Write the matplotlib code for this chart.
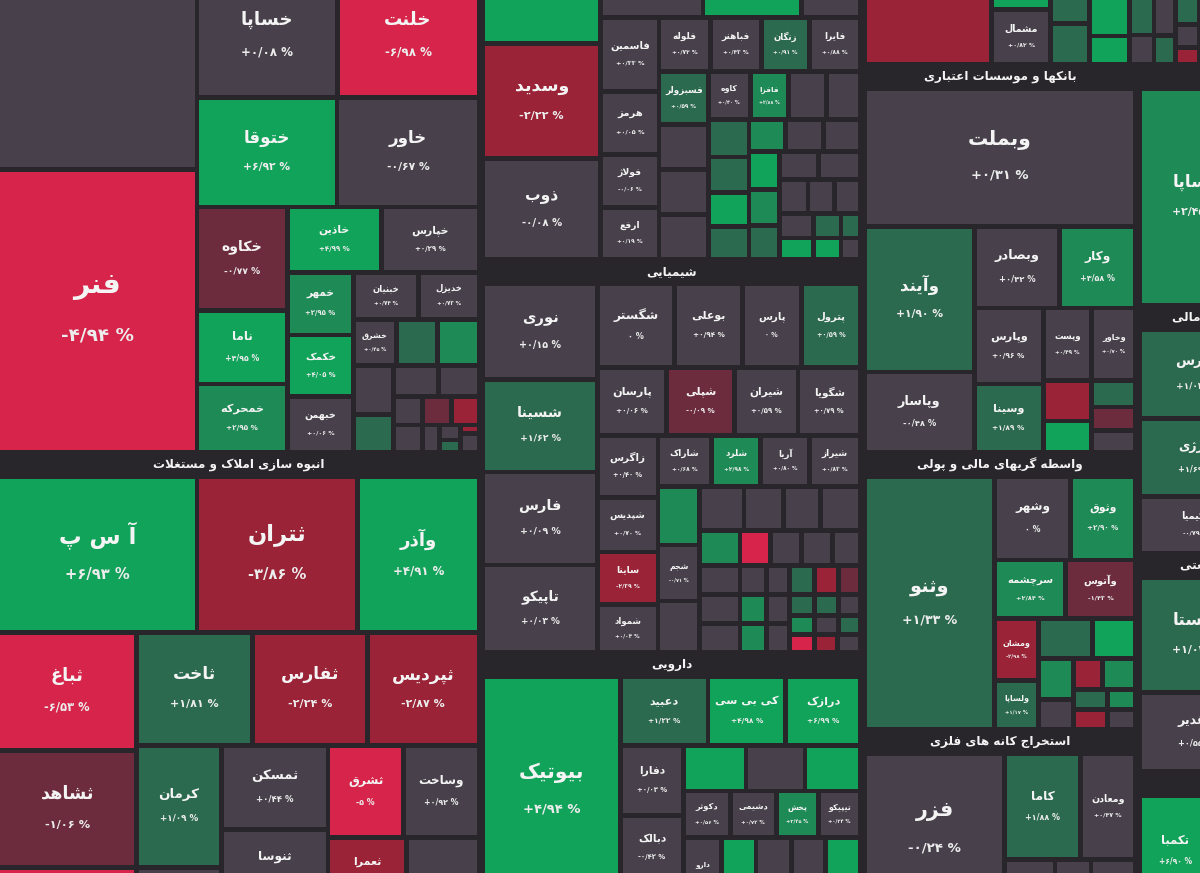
import matplotlib
matplotlib.use('Agg')
import matplotlib.pyplot as plt
from matplotlib.patches import Rectangle
from matplotlib import font_manager as fm
from matplotlib.ft2font import FT2Font

# ---------------- data: (name, size, change[, closing change for colour]) ----------------
AUTO = ['S', None, ['H',
    ['V', ('', 391, 0.11), ('فنر', 566.5, -4.94)],
    ['V',
        ['H', ('خساپا', 173, 0.08), ('خلنت', 175, -6.98)],
        ['H', ('ختوقا', 155, 6.92), ('خاور', 157, -0.67)],
        ['H',
            ['V', ('خکاوه', 94, -0.77), ('ناما', 67, 4.95), ('خمحرکه', 62, 2.95)],
            ['V',
                ['H', ('خاذین', 62, 4.99), ('خپارس', 64, 0.29)],
                ['H',
                    ['V', ('خمهر', 42, 2.95), ('خکمک', 41.5, 4.05), ('خبهمن', 37, 0.06)],
                    ['V',
                        ['H', ('خبنیان', 31, 0.74), ('خدیزل', 29, 0.73)],
                        ['H', ('خشرق', 19.6, 0.45), ('', 18.7, 1.5), ('', 19.1, 3.0)],
                        ['H',
                            ['V', ('', 19.8, 0.1), ('', 15, 1.5)],
                            ['V',
                                ['H', ('', 14.1, 0.1), ('', 12.6, 0.2)],
                                ['H',
                                    ['V', ('', 8.6, 0.1), ('', 8.0, 0.0)],
                                    ['V',
                                        ['H', ('', 8.3, -1.2), ('', 8.1, -2.5)],
                                        ['H', ('', 4.5, 0.1),
                                         ['V', ('', 3.2, 0.1), ('', 2.6, 1.5)],
                                         ['V', ('', 1.5, -3.0), ('', 3.5, 0.1)]],
                                    ],
                                ],
                            ],
                        ],
                    ],
                ],
            ],
        ],
    ],
]]

REALESTATE = ['S', 'انبوه سازی املاک و مستغلات', ['V',
    ['H', ('آ س پ', 313.8, 6.93), ('ثتران', 253.5, -3.86), ('وآذر', 191, 4.91)],
    ['H',
        ['V', ('ثباغ', 164.7, -6.53), ('ثشاهد', 163.2, -1.06), ('', 52.3, -4.5)],
        ['V',
            ['H', ('ثاخت', 132, 1.81), ('ثفارس', 131, -2.24), ('ثپردیس', 126.6, -2.87)],
            ['H',
                ['V', ('کرمان', 104.3, 1.09), ('', 32, 0.1)],
                ['V', ('ثمسکن', 89.8, 0.44), ('ثنوسا', 81.7, 0.3)],
                ['V',
                    ['H', ('ثشرق', 69.9, -5), ('وساخت', 69.9, 0.92)],
                    ['H', ('ثعمرا', 53.3, -3.1), ('', 49.3, 0.1)],
                ],
            ],
        ],
    ],
]]

METALS = ['S', None, ['H',
    ['V', ('', 81.5, 4.1), ('وسدید', 136.9, -2.22), ('ذوب', 120.2, -0.08)],
    ['V',
        ['H', ('', 44, 0.1), ('', 42.3, 5.0), ('', 25.3, 0.1)],
        ['H',
            ['V', ('فاسمین', 43.7, 0.33), ('هرمز', 37.2, 0.05), ('فولاژ', 31.3, -0.06), ('ارفع', 30.7, 0.19)],
            ['V',
                ['H', ('فلوله', 28.1, 0.72), ('فباهنر', 27.8, 0.43), ('زنگان', 26.2, 0.91, 1.5), ('فایرا', 27.8, 0.88)],
                ['H',
                    ['V', ('فسبزولر', 26.5, 0.59, 1.5), ('', 22.5, 0.1), ('', 22.5, 0.1), ('', 22.5, 0.1)],
                    ['V',
                        ['H', ('کاوه', 20.2, 0.40), ('فافزا', 18.7, 2.88), ('', 18.2, 0.1), ('', 16.6, 0.1)],
                        ['H',
                            ['V', ('', 15.4, 1.5), ('', 14.6, 1.5), ('', 13.9, 5.0), ('', 13.5, 1.5)],
                            ['V',
                                ['H', ('', 11.8, 2.5), ('', 12.2, 0.1), ('', 12.0, 0.1)],
                                ['H',
                                    ['V', ('', 11.8, 5.0), ('', 11.2, 2.5), ('', 10.5, 1.5)],
                                    ['V',
                                        ['H', ('', 10.9, 0.1), ('', 11.9, 0.1)],
                                        ['H', ('', 9.7, 0.1), ('', 9.0, 0.1), ('', 9.0, 0.1)],
                                        ['H', ['V', ('', 8.3, 0.1), ('', 7.3, 5.0)],
                                              ['V', ('', 6.9, 1.5), ('', 6.0, 5.0)],
                                              ['V', ('', 4.8, 1.5), ('', 4.2, 0.1)]],
                                    ],
                                ],
                            ],
                        ],
                    ],
                ],
            ],
        ],
    ],
]]

CHEM = ['S', 'شیمیایی', ['H',
    ['V', ('نوری', 110.3, 0.15), ('شسینا', 106.8, 1.62), ('فارس', 107.4, 0.09), ('تاپیکو', 101.1, 0.03)],
    ['V',
        ['H', ('شگستر', 65.5, 0.0), ('بوعلی', 56.8, 0.94), ('پارس', 50.1, 0.0), ('پترول', 49.7, 0.59, 1.2)],
        ['H', ('پارسان', 47.9, 0.06), ('شپلی', 46.2, -0.09, -1.2), ('شیران', 43.9, 0.59), ('شگویا', 42.8, 0.79)],
        ['H',
            ['V', ('زاگرس', 38.1, 0.40), ('شپدیس', 33.5, 0.70), ('ساینا', 32.3, -2.39), ('شمواد', 29.5, 0.04)],
            ['V',
                ['H', ('شاراک', 27.5, 0.68), ('شلرد', 25.5, 2.98), ('آریا', 25.0, 0.80), ('شیراز', 26.3, 0.83)],
                ['H',
                    ['V', ('', 24.6, 3.5), ('شجم', 23.5, -0.71), ('', 21.6, 0.1)],
                    ['V',
                        ['H', ('', 19.8, 0.1), ('', 17.6, 0.1), ('', 16.3, 0.1), ('', 17.8, 0.1)],
                        ['H', ('', 14.4, 3.0), ('', 10.9, -5.0), ('', 10.9, 0.1), ('', 10.9, 0.1), ('', 10.0, 0.1)],
                        ['H',
                            ['V', ('', 11.9, 0.1), ('', 11.9, 0.1), ('', 11.9, 0.1)],
                            ['V', ('', 7.8, 0.1), ('', 7.8, 2.5), ('', 7.8, 2.5)],
                            ['V', ('', 6.7, 0.1), ('', 6.7, 0.1), ('', 6.7, 0.1)],
                            ['V',
                                ['H', ('', 7.3, 1.5), ('', 7.0, -3.0), ('', 6.5, -1.2)],
                                ['H', ('', 5.3, 1.5), ('', 5.0, 1.5), ('', 4.7, 0.1)],
                                ['H', ('', 4.8, 2.5), ('', 4.6, 0.1), ('', 4.3, 1.5)],
                                ['H', ('', 4.5, -5.0), ('', 4.3, -3.0), ('', 4.1, 0.1)],
                            ],
                        ],
                    ],
                ],
            ],
        ],
    ],
]]

PHARMA = ['S', 'دارویی', ['H',
    ('بیوتیک', 317, 4.94),
    ['V',
        ['H', ('دعبید', 60.6, 1.22), ('کی بی سی', 53.8, 4.98), ('درازک', 51.7, 6.99)],
        ['H',
            ['V', ('دفارا', 44.8, 0.03), ('دبالک', 41.3, -0.42), ('', 16, 0.1)],
            ['V',
                ['H', ('', 28.7, 5.0), ('', 27.1, 0.1), ('', 25.5, 5.0)],
                ['H', ('دکوثر', 21.9, 0.56), ('دشیمی', 21.6, 0.72), ('پخش', 19.8, 3.45), ('تیپیکو', 19.8, 0.24)],
                ['H', ('دارو', 25.7, 0.1), ('', 23.6, 4.5), ('', 24, 0.1), ('', 23.6, 0.1), ('', 23.6, 4.5)],
            ],
        ],
    ],
]]

TOPSTRIP = ['S', None, ['H',
    ('', 115, -3.0),
    ['V', ('', 20.5, 5.0), ('مشمال', 32.7, 0.82)],
    ['V', ('', 18.9, 1.5), ('', 16, 1.5)],
    ['V', ('', 24.7, 5.0), ('', 11.5, 5.0)],
    ['V', ('', 14.7, 1.5), ('', 7.2, 0.1)],
    ['V', ('', 12.9, 0.1), ('', 6.3, 1.5)],
    ['V', ('', 12.1, 1.5), ('', 5.6, 0.1), ('', 4.2, -3.0)],
    ('', 179, 0.1),
]]

BANKS = ['S', 'بانکها و موسسات اعتباری', ['V',
    ('وبملت', 378.8, 0.31),
    ['H',
        ['V', ('وآیند', 162.2, 1.90), ('وپاسار', 89.8, -0.48)],
        ['V',
            ['H', ('وبصادر', 70.9, 0.42), ('وکار', 62.8, 3.58)],
            ['H',
                ['V', ('وپارس', 53.2, 0.96), ('وسینا', 48, 1.89)],
                ['V',
                    ['H', ('وپست', 35.9, 0.49), ('وخاور', 32.3, 0.70)],
                    ['H', ['V', ('', 20, -3.0), ('', 15.6, 4.5)],
                          ['V', ('', 11.8, 1.5), ('', 10.5, -1.5), ('', 9.8, 0.1)]],
                ],
            ],
        ],
    ],
]]

FINANCE = ['S', 'واسطه گریهای مالی و پولی', ['H',
    ('وثنو', 334.6, 1.33),
    ['V',
        ['H', ('وشهر', 63.5, 0.0), ('وثوق', 55.2, 2.90)],
        ['H', ('سرچشمه', 41.8, 2.84), ('وآتوس', 41.8, -1.43)],
        ['H',
            ['V', ('ومشان', 27.3, -2.98), ('ولساپا', 21.6, 1.17)],
            ['V',
                ['H', ('', 22.2, 1.5), ('', 17.4, 4.5)],
                ['H',
                    ['V', ('', 14.8, 2.5), ('', 10.8, 0.1)],
                    ['V',
                        ['H', ('', 9.0, -3.0), ('', 10.5, 2.5)],
                        ['H', ('', 6.8, 1.5), ('', 5.8, 2.5)],
                        ['H', ('', 6.8, -3.0), ('', 5.8, 0.1)],
                    ],
                ],
            ],
        ],
    ],
]]

MINING = ['S', 'استخراج کانه های فلزی', ['H',
    ('فزر', 215.2, -0.24),
    ['V',
        ['H', ('کاما', 81.2, 1.88), ('ومعادن', 59.1, 0.47)],
        ['H', ('', 23.2, 0.1), ('', 16.6, 0.1), ('', 20.7, 0.1)],
    ],
]]

INVEST = ['S', 'سرمایه گذاریها', ['H', ('وساپا', 247.3, 2.45), ('', 319.7, 0.1)]]
FINAUX = ['S', 'فعالیتهای کمکی به نهادهای مالی',
          ['H', ['V', ('بورس', 101.9, 1.03), ('انرژی', 89.3, 1.69), ('وکیمیا', 64.7, -0.79, 0.0)],
           ('', 330.8, 0.1)]]
MULTI = ['S', 'شرکتهای چند رشته ای صنعتی',
         ['H', ['V', ('شستا', 131.1, 1.04), ('وغدیر', 90.5, 0.55)], ('', 286.4, 0.1)]]
MACHINE = ['S', 'ماشین آلات و تجهیزات', ['H', ('تکمبا', 79.4, 6.90), ('', 207.5, 0.1)]]

ROOT = ['H',
        ['V', AUTO, REALESTATE],
        ['V', METALS, CHEM, PHARMA],
        ['V', TOPSTRIP, ['H', ['V', BANKS, FINANCE, MINING],
                              ['V', INVEST, FINAUX, MULTI, MACHINE]]]]

# ---------------- style ----------------
BG = '#28262a'
HEADER = 24.5
GAP = 2.4
PAD = 2.0


def colour(k):
    if k >= 4:
        return '#11a35a'
    if k >= 2:
        return '#1e8a56'
    if k >= 1:
        return '#2c6a50'
    if k > -0.75:
        return '#48414b'
    if k > -2:
        return '#6c2c3d'
    if k > -4:
        return '#9a2337'
    return '#d6244a'


# ---------------- Persian shaping ----------------
FORMS = {
    'ا': ('\uFE8D', '\uFE8E', None, None), 'آ': ('\uFE81', '\uFE82', None, None),
    'ب': ('\uFE8F', '\uFE90', '\uFE91', '\uFE92'), 'پ': ('\uFB56', '\uFB57', '\uFB58', '\uFB59'),
    'ت': ('\uFE95', '\uFE96', '\uFE97', '\uFE98'), 'ث': ('\uFE99', '\uFE9A', '\uFE9B', '\uFE9C'),
    'ج': ('\uFE9D', '\uFE9E', '\uFE9F', '\uFEA0'), 'چ': ('\uFB7A', '\uFB7B', '\uFB7C', '\uFB7D'),
    'ح': ('\uFEA1', '\uFEA2', '\uFEA3', '\uFEA4'), 'خ': ('\uFEA5', '\uFEA6', '\uFEA7', '\uFEA8'),
    'د': ('\uFEA9', '\uFEAA', None, None), 'ذ': ('\uFEAB', '\uFEAC', None, None),
    'ر': ('\uFEAD', '\uFEAE', None, None), 'ز': ('\uFEAF', '\uFEB0', None, None),
    'ژ': ('\uFB8A', '\uFB8B', None, None),
    'س': ('\uFEB1', '\uFEB2', '\uFEB3', '\uFEB4'), 'ش': ('\uFEB5', '\uFEB6', '\uFEB7', '\uFEB8'),
    'ص': ('\uFEB9', '\uFEBA', '\uFEBB', '\uFEBC'), 'ض': ('\uFEBD', '\uFEBE', '\uFEBF', '\uFEC0'),
    'ط': ('\uFEC1', '\uFEC2', '\uFEC3', '\uFEC4'), 'ظ': ('\uFEC5', '\uFEC6', '\uFEC7', '\uFEC8'),
    'ع': ('\uFEC9', '\uFECA', '\uFECB', '\uFECC'), 'غ': ('\uFECD', '\uFECE', '\uFECF', '\uFED0'),
    'ف': ('\uFED1', '\uFED2', '\uFED3', '\uFED4'), 'ق': ('\uFED5', '\uFED6', '\uFED7', '\uFED8'),
    'ک': ('\uFB8E', '\uFB8F', '\uFB90', '\uFB91'), 'گ': ('\uFB92', '\uFB93', '\uFB94', '\uFB95'),
    'ل': ('\uFEDD', '\uFEDE', '\uFEDF', '\uFEE0'), 'م': ('\uFEE1', '\uFEE2', '\uFEE3', '\uFEE4'),
    'ن': ('\uFEE5', '\uFEE6', '\uFEE7', '\uFEE8'), 'و': ('\uFEED', '\uFEEE', None, None),
    'ه': ('\uFEE9', '\uFEEA', '\uFEEB', '\uFEEC'), 'ی': ('\uFBFC', '\uFBFD', '\uFBFE', '\uFBFF'),
}
LAMALEF = {'ا': ('\uFEFB', '\uFEFC'), 'آ': ('\uFEF5', '\uFEF6')}


def shape(text):
    ch = list(text)
    n = len(ch)
    out = []
    i = 0
    while i < n:
        c = ch[i]
        if c not in FORMS:
            out.append(c)
            i += 1
            continue
        prev = ch[i - 1] if i > 0 else None
        jp = prev in FORMS and FORMS[prev][2] is not None
        if c == 'ل' and i + 1 < n and ch[i + 1] in LAMALEF:
            lig = LAMALEF[ch[i + 1]]
            out.append(lig[1] if jp else lig[0])
            i += 2
            continue
        nxt = ch[i + 1] if i + 1 < n else None
        jn = FORMS[c][2] is not None and nxt in FORMS
        iso, fin, ini, med = FORMS[c]
        out.append(med if (jp and jn) else fin if jp else ini if jn else iso)
        i += 1
    return ''.join(out)[::-1]


FA = str.maketrans('0123456789', '۰۱۲۳۴۵۶۷۸۹')


def fmt(c):
    if c == 0:
        return '۰ %'
    a = abs(c)
    s = str(int(a)) if a == int(a) else '%.2f' % a
    s = s.translate(FA).replace('.', '/')
    return ('+' if c > 0 else '-') + s + ' %'


# ---------------- layout ----------------
def wt(node):
    if isinstance(node, tuple):
        return node[1]
    if node[0] == 'S':
        return wt(node[2])
    return sum(wt(c) for c in node[1:])


def kv(node):
    if isinstance(node, tuple):
        return 0
    if node[0] == 'S':
        return (1 if node[1] else 0) + kv(node[2])
    kids = node[1:]
    if node[0] == 'V':
        return sum(kv(c) for c in kids)
    ws = [wt(c) for c in kids]
    return sum(w * kv(c) for w, c in zip(ws, kids)) / sum(ws)


def layout(node, x0, y0, x1, y1, cells, titles):
    if isinstance(node, tuple):
        cells.append((node, x0, y0, x1, y1))
        return
    if node[0] == 'S':
        title, child = node[1], node[2]
        h = HEADER if title else 0
        if title:
            titles.append((title, (x0 + x1) / 2, y0 + h / 2))
        layout(child, x0 + PAD, y0 + h, x1 - PAD, y1, cells, titles)
        return
    kids = node[1:]
    if node[0] == 'H':
        hh = y1 - y0
        d = [100 * wt(c) / (hh - HEADER * kv(c)) for c in kids]
        s = sum(d)
        x = x0
        for c, di in zip(kids, d):
            w = (x1 - x0) * di / s
            layout(c, x, y0, x + w, y1, cells, titles)
            x += w
    else:
        ww = x1 - x0
        d = [100 * wt(c) / ww + HEADER * kv(c) for c in kids]
        s = sum(d)
        y = y0
        for c, di in zip(kids, d):
            h = (y1 - y0) * di / s
            layout(c, x0, y, x1, y + h, cells, titles)
            y += h


cells, titles = [], []
layout(ROOT, -4, -25, 1400, 905, cells, titles)

# ---------------- font choice ----------------
strings = [shape(c[0][0]) + fmt(c[0][2]) for c in cells] + [shape(t[0]) for t in titles]
needed = set(''.join(strings)) - {' '}


def has_all(path):
    try:
        cmap = FT2Font(path).get_charmap()
        return all(ord(ch) in cmap for ch in needed)
    except Exception:
        return False


bold_path = fm.findfont(fm.FontProperties(family='DejaVu Sans', weight='bold'))
reg_path = fm.findfont(fm.FontProperties(family='DejaVu Sans'))
FONT = bold_path if has_all(bold_path) else reg_path


def fp(px):
    return fm.FontProperties(fname=FONT, size=px * 0.72)


# ---------------- draw ----------------
fig = plt.figure(figsize=(12, 8.73), dpi=100)
fig.patch.set_facecolor(BG)
ax = fig.add_axes([0, 0, 1, 1])
ax.set_facecolor(BG)
ax.set_xlim(0, 1200)
ax.set_ylim(873, 0)
ax.axis('off')

for leaf, x0, y0, x1, y1 in cells:
    name, size, chg = leaf[0], leaf[1], leaf[2]
    k = leaf[3] if len(leaf) > 3 else chg
    w = x1 - x0 - 2 * GAP
    h = y1 - y0 - 2 * GAP
    if w <= 0 or h <= 0:
        continue
    ax.add_patch(Rectangle((x0 + GAP, y0 + GAP), w, h, facecolor=colour(k),
                           edgecolor='none', lw=0))
    if not name or w < 26 or h < 22:
        continue
    n = len(name)
    fs = min(3 + 0.13 * min(w, h), 0.92 * w / (0.55 * n + 0.2), 0.3 * h)
    pf = min(0.65 * fs, 0.92 * w / 4.2)
    S = 1.75 * fs
    cx = (x0 + x1) / 2
    cy = (y0 + y1) / 2
    ax.text(cx, cy - S / 2, shape(name), ha='center', va='center', color='#f4f4f4',
            fontproperties=fp(fs), clip_on=True)
    ax.text(cx, cy + S / 2, fmt(chg), ha='center', va='center', color='#ececec',
            fontproperties=fp(pf), clip_on=True)

for title, cx, cy in titles:
    ax.text(cx, cy, shape(title), ha='center', va='center', color='#f4f4f4',
            fontproperties=fp(12), clip_on=True)

fig.savefig('out.png', dpi=100, facecolor=BG)
